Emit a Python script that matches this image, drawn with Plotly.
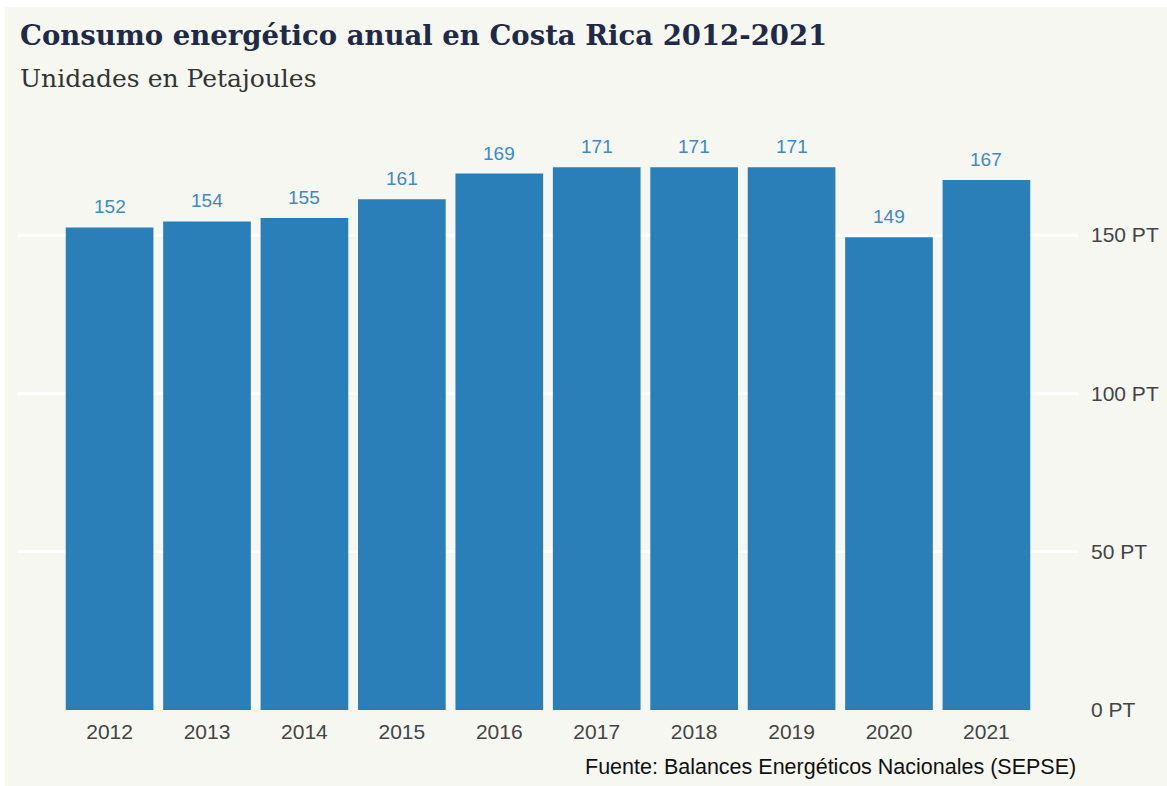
import plotly.graph_objects as go

years = ["2012", "2013", "2014", "2015", "2016", "2017", "2018", "2019", "2020", "2021"]
consumo_pj = [152.4, 154.3, 155.4, 161.3, 169.4, 171.4, 171.4, 171.4, 149.3, 167.4]
y_ticks = [0, 50, 100, 150]
y_tick_labels = ["0 PT", "50 PT", "100 PT", "150 PT"]

BG = "#f7f7f2"
BAR = "#2a7fb8"
LABEL = "#3b8bc6"
SANS = "Liberation Sans, Arial"

fig = go.Figure()
fig.add_trace(go.Bar(x=years, y=consumo_pj, marker=dict(color=BAR, line=dict(width=0)),
                     width=0.9, hoverinfo="x+y"))

for i, v in enumerate(consumo_pj):
    fig.add_annotation(x=i, y=v, text=f"{v:.0f}", showarrow=False, yanchor="bottom",
                       yshift=8, font=dict(family=SANS, size=19, color=LABEL))

# title / subtitle / caption
fig.add_annotation(xref="paper", yref="paper", x=0, y=1, xanchor="left", yanchor="middle",
                   yshift=105, showarrow=False,
                   text="<b>Consumo energético anual en Costa Rica 2012-2021</b>",
                   font=dict(family="DejaVu Serif", size=27.5, color="#1e2a48"))
fig.add_annotation(xref="paper", yref="paper", x=0, y=1, xanchor="left", yanchor="middle",
                   yshift=62, showarrow=False, text="Unidades en Petajoules",
                   font=dict(family="DejaVu Serif", size=25, color="#333333"))
fig.add_annotation(xref="paper", yref="paper", x=1, y=0, xanchor="right", yanchor="middle",
                   yshift=-57, showarrow=False,
                   text="Fuente: Balances Energéticos Nacionales (SEPSE)",
                   font=dict(family=SANS, size=21.5, color="#111111"))

# background panel (white border on top/left)
fig.add_shape(type="rect", xref="paper", yref="paper", layer="below",
              x0=-(18 - 5) / 1060, x1=(1167 - 18) / 1060 + 0.01,
              y0=-76 / 570 - 0.01, y1=1 + (140 - 7) / 570,
              fillcolor=BG, line=dict(width=0))

fig.update_layout(
    width=1167, height=786,
    margin=dict(l=18, r=89, t=140, b=76, autoexpand=False),
    paper_bgcolor="white", plot_bgcolor=BG,
    showlegend=False, bargap=0.1,
    xaxis=dict(type="category", range=[-0.94, 9.94], showgrid=False, zeroline=False,
               ticks="", ticklabelstandoff=7, showline=False, automargin=False,
               tickfont=dict(family=SANS, size=21, color="#444444")),
    yaxis=dict(range=[0, 180], side="right", tickvals=y_ticks, ticktext=y_tick_labels,
               showgrid=True, gridcolor="white", gridwidth=3, zeroline=False,
               ticks="", ticklabelstandoff=12, showline=False, automargin=False,
               tickfont=dict(family=SANS, size=21, color="#444444")),
)

fig.write_html("out.html")
